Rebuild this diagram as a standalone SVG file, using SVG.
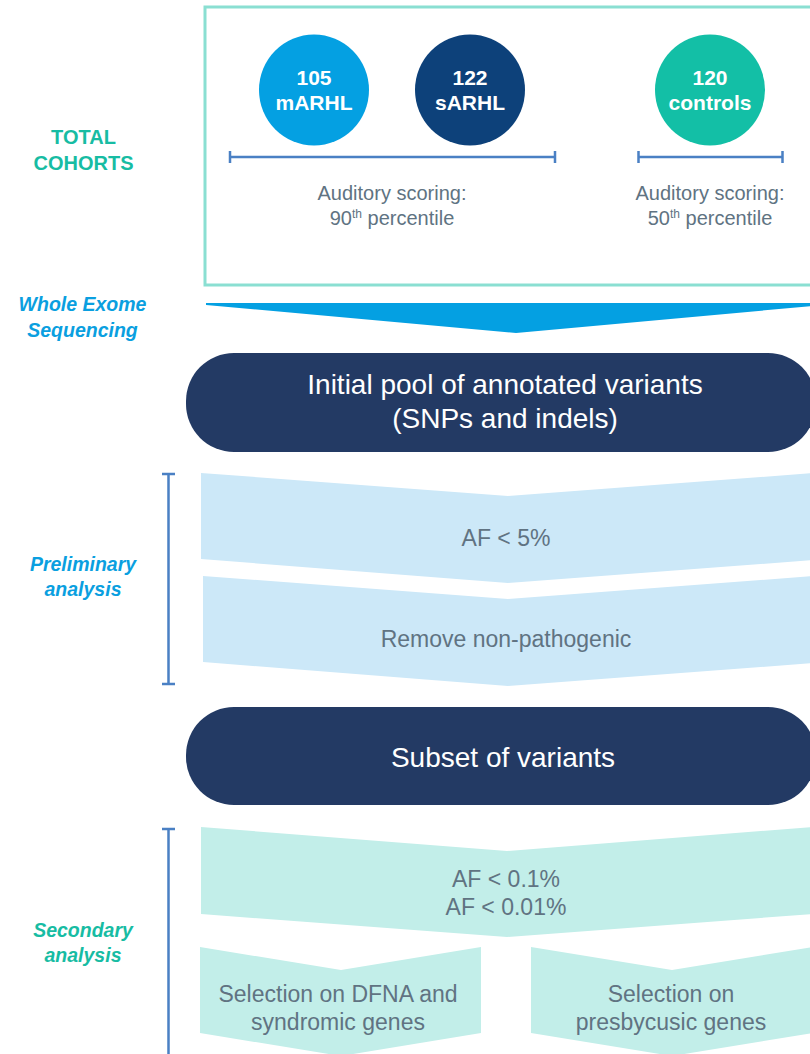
<svg xmlns="http://www.w3.org/2000/svg" width="810" height="1054" viewBox="0 0 810 1054">
<style>
text{font-family:"Liberation Sans",Arial,sans-serif;text-anchor:middle}
.lbl{font-weight:bold;font-size:20px}
.side{font-weight:bold;font-style:italic;font-size:19.5px}
.circ{font-weight:bold;font-size:21px;fill:#fff}
.pill{fill:#233a64}
.pilltxt{font-size:28px;fill:#fff}
.grey{fill:#607382}
.aud{font-size:20px}
.ctext{font-size:23px}
.blue1{fill:#cce8f8}
.teal1{fill:#c2eee9}
.br{stroke:#4a80c4;stroke-width:2.5;fill:none}
</style>
<rect width="810" height="1054" fill="#fff"/>

<g id="cohort-box">
<rect x="205" y="7" width="620" height="278" fill="none" stroke="#8adfd2" stroke-width="3"/>
</g>
<g id="label-total-cohorts">
<text class="lbl" x="83.5" y="144" fill="#17bca3">TOTAL</text>
<text class="lbl" x="83.5" y="170" fill="#17bca3">COHORTS</text>
</g>
<g id="node-marhl">
<ellipse cx="314" cy="90" rx="55" ry="55.5" fill="#04a0e2"/>
<text class="circ" x="314" y="85">105</text>
<text class="circ" x="314" y="110">mARHL</text>
</g>
<g id="node-sarhl">
<ellipse cx="470" cy="90" rx="55" ry="55.5" fill="#0d417a"/>
<text class="circ" x="470" y="85">122</text>
<text class="circ" x="470" y="110">sARHL</text>
</g>
<g id="node-controls">
<ellipse cx="710" cy="90" rx="55" ry="55.5" fill="#13bfa6"/>
<text class="circ" x="710" y="85">120</text>
<text class="circ" x="710" y="110">controls</text>
</g>
<g id="scoring-90">
<text class="grey aud" x="392" y="200">Auditory scoring:</text>
<text class="grey aud" x="392" y="225">90<tspan font-size="12" dy="-7">th</tspan><tspan dy="7"> percentile</tspan></text>
</g>
<g id="scoring-50">
<text class="grey aud" x="710" y="200">Auditory scoring:</text>
<text class="grey aud" x="710" y="225">50<tspan font-size="12" dy="-7">th</tspan><tspan dy="7"> percentile</tspan></text>
</g>

<g id="label-wes">
<text class="side" x="82.5" y="311" fill="#0a9fe0">Whole Exome</text>
<text class="side" x="82.5" y="337" fill="#0a9fe0">Sequencing</text>
</g>

<g id="node-initial-pool">
<rect class="pill" x="186" y="353" width="630" height="99" rx="48" ry="48"/>
<text class="pilltxt" x="505" y="394">Initial pool of annotated variants</text>
<text class="pilltxt" x="505" y="428">(SNPs and indels)</text>
</g>

<g id="label-preliminary">
<text class="side" x="83" y="571" fill="#0a9fe0">Preliminary</text>
<text class="side" x="83" y="596" fill="#0a9fe0">analysis</text>
</g>
<g id="node-af5">
<polygon class="blue1" points="201,473 508,496 815,473 815,560 508,583 201,559"/>
<text class="grey ctext" x="506" y="546">AF &lt; 5%</text>
</g>
<g id="node-remove">
<polygon class="blue1" points="203,576 508,599 815,576 815,663 508,686 203,662"/>
<text class="grey ctext" x="506" y="647">Remove non-pathogenic</text>
</g>

<g id="node-subset">
<rect class="pill" x="186" y="707" width="630" height="98" rx="48" ry="48"/>
<text class="pilltxt" x="503" y="767">Subset of variants</text>
</g>

<g id="label-secondary">
<text class="side" x="83" y="937" fill="#17bca3">Secondary</text>
<text class="side" x="83" y="962" fill="#17bca3">analysis</text>
</g>
<g id="node-af01">
<polygon class="teal1" points="201,827 507,851 813,827 813,914 507,937 201,914"/>
<text class="grey ctext" x="506" y="887">AF &lt; 0.1%</text>
<text class="grey ctext" x="506" y="915">AF &lt; 0.01%</text>
</g>
<g id="node-dfna">
<polygon class="teal1" points="200,947 341,970 481,947 481,1033 341,1056 200,1033"/>
<text class="grey ctext" x="338" y="1002">Selection on DFNA and</text>
<text class="grey ctext" x="338" y="1030">syndromic genes</text>
</g>
<g id="node-presby">
<polygon class="teal1" points="531,947 672,970 813,947 813,1033 672,1056 531,1033"/>
<text class="grey ctext" x="671" y="1002">Selection on</text>
<text class="grey ctext" x="671" y="1030">presbycusic genes</text>
</g>

<g id="connectors">
<path class="br" d="M230,157 H555 M230,151 V163 M555,151 V163"/>
<path class="br" d="M638.5,157 H782.5 M638.5,151 V163 M782.5,151 V163"/>
<polygon points="206,303 812,303 812,306 516,333 206,305" fill="#04a0e2"/>
<path class="br" d="M168.5,474 V684 M162,474 H175 M162,684 H175"/>
<path class="br" d="M168.5,829 V1054 M162,829 H175"/>
</g>
</svg>
